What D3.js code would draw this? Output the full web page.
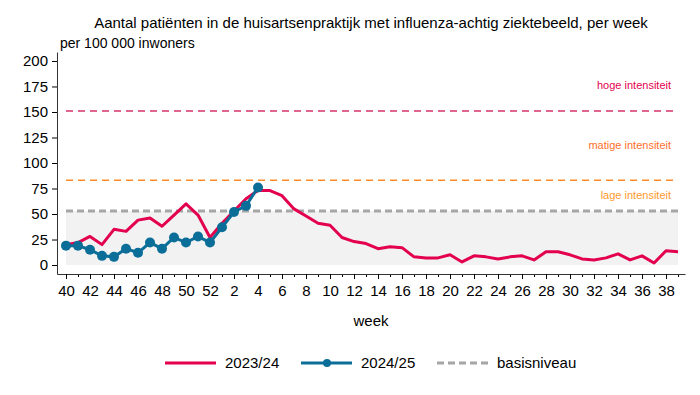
<!DOCTYPE html>
<html>
<head>
<meta charset="utf-8">
<script src="https://cdn.jsdelivr.net/npm/d3@7"></script>
<style>
  body { margin: 0; background: #fff; }
  svg text { font-family: "Liberation Sans", Arial, sans-serif; fill: #000; }
</style>
</head>
<body>
<div id="chart"></div>
<script>
'use strict'

// weeks of the season, 40 .. 52 then 1 .. 39
const weeks = [40,41,42,43,44,45,46,47,48,49,50,51,52,1,2,3,4,5,6,7,8,9,10,11,12,13,14,15,16,17,18,19,20,21,22,23,24,25,26,27,28,29,30,31,32,33,34,35,36,37,38,39]

// per 100 000 inwoners
const season2324 = [20,22,28,20,35,33,44,46,38,49,60,49,27,41,53,65,73,73,68,55,48,41,39,27,23,21,16,18,17,8,7,7,10,3,9,8,6,8,9,5,13,13,10,6,5,7,11,5,9,2,14,13]
const season2425 = [19,19,15,9,8,16,12,22,16,27,22,28,22,37,52,58,76]

const baseLevel = 53
const thresholds = [
    { label: 'hoge intensiteit', value: 151 },
    { label: 'matige intensiteit', value: 83 },
    { label: 'lage intensiteit', value: 53 }
]

const yTicks = [0,25,50,75,100,125,150,175,200]

////////////////////////////////////
//////////// svg setup /////////////
////////////////////////////////////
const svgWidth = 700, svgHeight = 395

const svg = d3.select('#chart')
    .append('svg')
    .attr('width', svgWidth)
    .attr('height', svgHeight)

const x = d3.scaleLinear().domain([-0.75, 51.58]).range([57, 685])
const y = d3.scaleLinear().domain([-8.8, 208.8]).range([274, 52])

const red = '#e3004f', blue = '#0b6e99', grey = '#a6a6a6'
const threshColors = ['#d6336c', '#ff8a2b', '#a6a6a6']
const labelColors = ['#e3004f', '#ff6f2c', '#ff9a2e']

// shaded area below basisniveau
svg.append('rect')
    .attr('x', x(0))
    .attr('y', y(baseLevel))
    .attr('width', x(weeks.length - 1) - x(0))
    .attr('height', y(0) - y(baseLevel))
    .attr('fill', '#f2f2f2')

// threshold lines
thresholds.forEach((t, i) => {
    svg.append('line')
        .attr('x1', x(0)).attr('x2', x(weeks.length - 1))
        .attr('y1', y(t.value)).attr('y2', y(t.value))
        .attr('stroke', threshColors[i])
        .attr('stroke-width', i == 2 ? 3 : 1.5)
        .attr('stroke-dasharray', i == 2 ? '7,4' : '7,5')
})

// labels sit between the lines
const labelY = [176, 118, 69]
thresholds.forEach((t, i) => {
    svg.append('text')
        .attr('x', 671)
        .attr('y', y(labelY[i]) + 4)
        .attr('text-anchor', 'end')
        .style('font-size', '11px')
        .style('fill', labelColors[i])
        .text(t.label)
})

////////////////////////////////////
//////////////// axes //////////////
////////////////////////////////////
const yAxis = svg.append('g')
    .attr('transform', `translate(${x(-0.75)},0)`)
    .call(d3.axisLeft(y).tickValues(yTicks).tickSize(5).tickSizeOuter(0))
yAxis.selectAll('text').style('font-size', '15px').attr('x', -9)
yAxis.select('.domain').attr('stroke', '#333')

const idx = d3.range(weeks.length)
svg.append('g')
    .attr('transform', `translate(0,${y(-8.8)})`)
    .call(d3.axisBottom(x).tickValues(idx.filter(i => i % 2 == 1)).tickSize(3).tickFormat('').tickSizeOuter(0))
    .call(g => g.select('.domain').remove())

const xAxis = svg.append('g')
    .attr('transform', `translate(0,${y(-8.8)})`)
    .call(d3.axisBottom(x).tickValues(idx.filter(i => i % 2 == 0)).tickSize(5).tickSizeOuter(0)
        .tickFormat(i => weeks[i]))
xAxis.selectAll('text').style('font-size', '15px').attr('y', 11)
xAxis.select('.domain').attr('stroke', '#333')

svg.append('text')
    .attr('x', 371).attr('y', 326)
    .attr('text-anchor', 'middle')
    .style('font-size', '15px')
    .text('week')

////////////////////////////////////
//////////////// lines /////////////
////////////////////////////////////
const line = d3.line()
    .x((d, i) => x(i))
    .y(d => y(d))

svg.append('path')
    .datum(season2324)
    .attr('fill', 'none')
    .attr('stroke', red)
    .attr('stroke-width', 3)
    .attr('stroke-linejoin', 'round')
    .attr('d', line)

svg.append('path')
    .datum(season2425)
    .attr('fill', 'none')
    .attr('stroke', blue)
    .attr('stroke-width', 3)
    .attr('d', line)

svg.selectAll('.dot')
    .data(season2425)
    .join('circle')
    .attr('class', 'dot')
    .attr('cx', (d, i) => x(i))
    .attr('cy', d => y(d))
    .attr('r', 5)
    .attr('fill', blue)

////////////////////////////////////
//////////////// titles ////////////
////////////////////////////////////
svg.append('text')
    .attr('x', 371).attr('y', 28)
    .attr('text-anchor', 'middle')
    .style('font-size', '15px')
    .text('Aantal patiënten in de huisartsenpraktijk met influenza-achtig ziektebeeld, per week')

svg.append('text')
    .attr('x', 60).attr('y', 48)
    .style('font-size', '14px')
    .text('per 100 000 inwoners')

////////////////////////////////////
//////////////// legend ////////////
////////////////////////////////////
const legend = svg.append('g').attr('transform', 'translate(0,363)')

legend.append('line').attr('x1', 165).attr('x2', 216).attr('stroke', red).attr('stroke-width', 3)
legend.append('text').attr('x', 225).attr('y', 5).style('font-size', '15px').text('2023/24')

legend.append('line').attr('x1', 301).attr('x2', 352).attr('stroke', blue).attr('stroke-width', 3)
legend.append('circle').attr('cx', 327).attr('r', 4).attr('fill', blue)
legend.append('text').attr('x', 361).attr('y', 5).style('font-size', '15px').text('2024/25')

legend.append('line').attr('x1', 437).attr('x2', 488).attr('stroke', grey).attr('stroke-width', 3).attr('stroke-dasharray', '7,4')
legend.append('text').attr('x', 497).attr('y', 5).style('font-size', '15px').text('basisniveau')
</script>
</body>
</html>
